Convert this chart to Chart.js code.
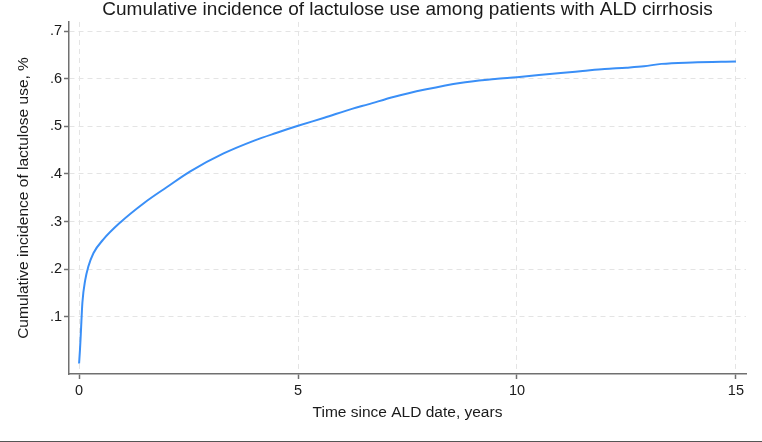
<!DOCTYPE html>
<html>
<head>
<meta charset="utf-8">
<script src="https://cdn.jsdelivr.net/npm/chart.js@4"></script>
<style>
  html, body { margin: 0; padding: 0; background: #fff; }
  #grafica-wrap { width: 762px; height: 441px; border-bottom: 1px solid #555; position: relative; }
</style>
</head>
<body>
<div id="grafica-wrap"><canvas id="grafica"></canvas></div>
<script>
// Tiempo desde la fecha ALD (años) y la incidencia acumulada
const years = [0, 0.02, 0.04, 0.076, 0.14, 0.21, 0.33, 0.55, 0.94, 1.5, 2.0, 2.53, 3.3, 4.0, 4.5, 5.0, 5.6, 6.25, 6.6, 7.2, 7.9, 8.7, 9.5, 10.0, 11.0, 11.5, 12.0, 12.5, 12.9, 13.3, 14.0, 15.0];
const incidence = [0.002, 0.03, 0.065, 0.13, 0.177, 0.205, 0.234, 0.262, 0.298, 0.340, 0.372, 0.405, 0.443, 0.470, 0.486, 0.501, 0.518, 0.537, 0.546, 0.562, 0.577, 0.591, 0.599, 0.603, 0.612, 0.616, 0.620, 0.623, 0.626, 0.631, 0.634, 0.636];

const xTicks = [0, 5, 10, 15];
const yTicks = [0.1, 0.2, 0.3, 0.4, 0.5, 0.6, 0.7];
const yTickLabels = ['.1', '.2', '.3', '.4', '.5', '.6', '.7'];

const fuente = '"Liberation Sans", Arial, Helvetica, sans-serif';
const colorEje = '#707070';
const colorRejilla = '#e4e4e4';
const colorTexto = '#1a1a1a';

const datos = {
  datasets: [{
    label: 'Cumulative incidence',
    data: years.map((t, i) => ({ x: t, y: incidence[i] })),
    borderColor: '#3a8ff7',
    borderWidth: 2,
    pointRadius: 0,
    fill: false,
    cubicInterpolationMode: 'monotone'
  }]
};

new Chart(document.getElementById('grafica'), {
  type: 'line',
  data: datos,
  options: {
    responsive: true,
    maintainAspectRatio: false,
    animation: false,
    layout: { padding: { left: 14, right: 16, top: 0, bottom: 19 } },
    plugins: {
      legend: { display: false },
      tooltip: { enabled: false },
      title: {
        display: true,
        text: 'Cumulative incidence of lactulose use among patients with ALD cirrhosis',
        fullSize: false,
        color: colorTexto,
        font: { family: fuente, size: 19, weight: 'normal', lineHeight: 1.05 },
        padding: { top: 0, bottom: 2 }
      }
    },
    scales: {
      x: {
        type: 'linear',
        min: -0.23,
        max: 15.23,
        afterBuildTicks: s => { s.ticks = xTicks.map(v => ({ value: v })); },
        afterFit: s => { s.height = 48; },
        ticks: {
          autoSkip: false,
          maxRotation: 0,
          padding: 3,
          color: colorTexto,
          font: { family: fuente, size: 14.5 },
          callback: v => String(v)
        },
        grid: { color: colorRejilla, lineWidth: 1, tickColor: colorEje, tickLength: 5, tickWidth: 1.5 },
        border: { color: colorEje, width: 1.5, dash: [5, 4] },
        title: {
          display: true,
          text: 'Time since ALD date, years',
          color: colorTexto,
          font: { family: fuente, size: 15.5 },
          padding: 0
        }
      },
      y: {
        min: -0.02,
        max: 0.719,
        afterBuildTicks: s => { s.ticks = yTicks.map(v => ({ value: v })); },
        afterFit: s => { s.width = 55; },
        ticks: {
          autoSkip: false,
          padding: 2,
          color: colorTexto,
          font: { family: fuente, size: 14.5 },
          callback: v => yTickLabels[yTicks.indexOf(v)]
        },
        grid: { color: colorRejilla, lineWidth: 1, tickColor: colorEje, tickLength: 5, tickWidth: 1.5 },
        border: { color: colorEje, width: 1.5, dash: [5, 4] },
        title: {
          display: true,
          text: 'Cumulative incidence of lactulose use, %',
          color: colorTexto,
          font: { family: fuente, size: 15.5 },
          padding: 0
        }
      }
    }
  }
});
</script>
</body>
</html>
